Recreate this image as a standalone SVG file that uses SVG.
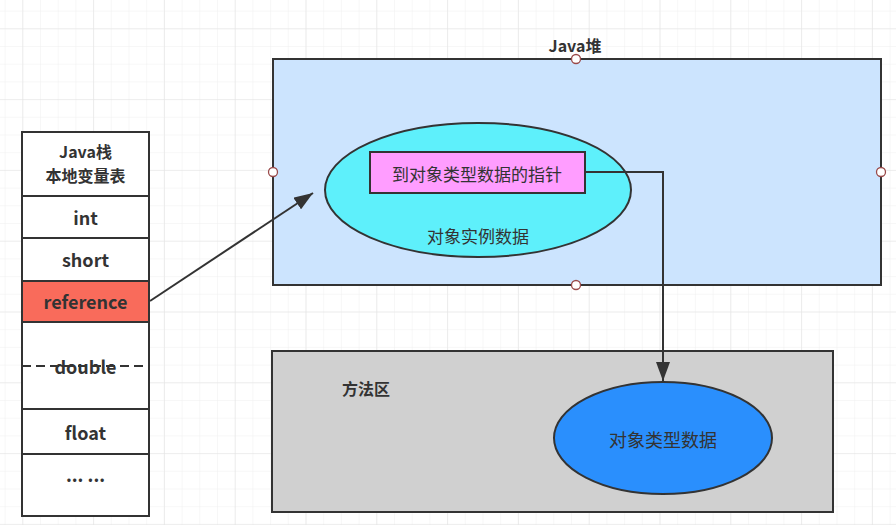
<svg xmlns="http://www.w3.org/2000/svg" width="896" height="525" viewBox="0 0 896 525">
<defs>
  <pattern id="minor" x="4.6" y="10.6" width="17.7" height="17.7" patternUnits="userSpaceOnUse">
    <path d="M0 0 V17.7 M0 0 H17.7" fill="none" stroke="#efefef" stroke-width="1"/>
  </pattern>
  <pattern id="major" x="22.3" y="28.3" width="70.8" height="70.8" patternUnits="userSpaceOnUse">
    <path d="M0 0 V70.8 M0 0 H70.8" fill="none" stroke="#e4e4e4" stroke-width="1.2"/>
  </pattern>
  <marker id="arr" markerUnits="userSpaceOnUse" markerWidth="20" markerHeight="14" refX="19" refY="7" orient="auto">
    <path d="M0 0 L19 7 L0 14 Z" fill="#333"/>
  </marker>
  <style>
    .box{stroke:#333;stroke-width:2}
    .t{font-family:"Noto Sans CJK SC","Liberation Sans",sans-serif;fill:#333;text-anchor:middle;dominant-baseline:central}
    .b{font-weight:bold;font-size:18px}
    .r{font-size:17px}
    .h{fill:#fff;stroke:#9a4a4a;stroke-width:1.3}
  </style>
</defs>
<rect width="896" height="525" fill="#fff"/>
<rect width="896" height="525" fill="url(#minor)"/>
<rect width="896" height="525" fill="url(#major)"/>

<g id="java-stack">
  <rect class="box" x="22" y="132" width="127" height="384" fill="#fff"/>
  <text class="t b" x="85.5" y="151" style="font-size:16px">Java栈</text>
  <text class="t b" x="85.5" y="175" style="font-size:16px">本地变量表</text>
  <line class="box" x1="22" y1="196" x2="149" y2="196"/>
</g>
<g id="slot-int">
  <text class="t b" x="85.5" y="217">int</text>
  <line class="box" x1="22" y1="238" x2="149" y2="238"/>
</g>
<g id="slot-short">
  <text class="t b" x="85.5" y="259">short</text>
</g>
<g id="slot-reference">
  <rect class="box" x="22" y="281" width="127" height="41" fill="#f96b5b"/>
  <text class="t b" x="85.5" y="301">reference</text>
</g>
<g id="slot-double">
  <text class="t b" x="85.5" y="366">double</text>
  <line x1="22" y1="366" x2="149" y2="366" stroke="#333" stroke-width="2" stroke-dasharray="9 5"/>
</g>
<g id="slot-float">
  <line class="box" x1="22" y1="409" x2="149" y2="409"/>
  <text class="t b" x="85.5" y="432">float</text>
  <line class="box" x1="22" y1="454" x2="149" y2="454"/>
</g>
<g id="slot-more">
  <text class="t b" x="85.5" y="474">... ...</text>
</g>

<g id="java-heap">
  <text class="t b" x="575" y="45" style="font-size:16px">Java堆</text>
  <rect class="box" x="273" y="59" width="608" height="226" fill="#cce4fe"/>
</g>
<g id="instance-data">
  <ellipse class="box" cx="478" cy="190" rx="153" ry="67" fill="#5ef0fb"/>
  <text class="t r" x="478" y="235">对象实例数据</text>
</g>
<g id="type-pointer">
  <rect class="box" x="370" y="152" width="215" height="41" fill="#ff9dff"/>
  <text class="t r" x="477" y="173">到对象类型数据的指针</text>
</g>

<g id="method-area">
  <rect class="box" x="272" y="351" width="561" height="161" fill="#d0d0d0"/>
  <text class="t b" x="366" y="388" style="font-size:16px">方法区</text>
</g>
<g id="type-data">
  <ellipse class="box" cx="663" cy="438" rx="109" ry="56" fill="#2a8ffd"/>
  <text class="t" x="663" y="439" style="font-size:18px">对象类型数据</text>
</g>

<g id="connectors" fill="none" stroke="#333" stroke-width="2">
  <line x1="150" y1="301" x2="313" y2="193" marker-end="url(#arr)"/>
  <polyline points="585,172 663,172 663,381" marker-end="url(#arr)"/>
</g>

<g id="handles">
  <circle class="h" cx="576" cy="59" r="4.5"/>
  <circle class="h" cx="273" cy="172" r="4.5"/>
  <circle class="h" cx="881" cy="172" r="4.5"/>
  <circle class="h" cx="576" cy="285" r="4.5"/>
</g>
</svg>
